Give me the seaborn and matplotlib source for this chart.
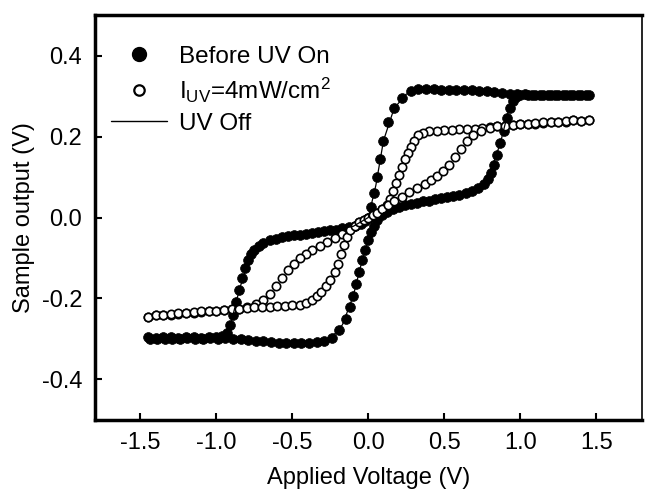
import pandas as pd
import matplotlib
matplotlib.use("Agg")
import matplotlib.pyplot as plt
from matplotlib.lines import Line2D
import seaborn as sns

# Before UV On (filled circles), sweep up then sweep down
before_up_x = [-1.45, -1.40, -1.35, -1.30, -1.25, -1.20, -1.15, -1.10, -1.05, -1.00,
               -0.96, -0.93, -0.91, -0.89, -0.87, -0.85, -0.83, -0.81, -0.79, -0.77,
               -0.75, -0.72, -0.69, -0.65, -0.61, -0.57, -0.53, -0.49, -0.45, -0.41,
               -0.37, -0.33, -0.29, -0.25, -0.21, -0.17, -0.13, -0.09, -0.05, -0.02,
               0.00, 0.02, 0.04, 0.06, 0.08, 0.10, 0.13, 0.17, 0.22, 0.28,
               0.33, 0.38, 0.43, 0.48, 0.53, 0.58, 0.63, 0.68, 0.73, 0.78,
               0.83, 0.88, 0.93, 0.98, 1.03, 1.08, 1.13, 1.18, 1.23, 1.28,
               1.33, 1.38, 1.43]
before_up_y = [-0.295, -0.297, -0.295, -0.296, -0.297, -0.295, -0.296, -0.297, -0.296, -0.295,
               -0.293, -0.285, -0.265, -0.24, -0.21, -0.18, -0.15, -0.125, -0.105, -0.09,
               -0.08, -0.07, -0.062, -0.056, -0.052, -0.049, -0.046, -0.044, -0.042, -0.040,
               -0.038, -0.036, -0.034, -0.032, -0.030, -0.027, -0.024, -0.020, -0.015, -0.008,
               0.0, 0.025, 0.06, 0.10, 0.145, 0.19, 0.235, 0.27, 0.295, 0.312,
               0.318, 0.318, 0.317, 0.316, 0.316, 0.315, 0.315, 0.314, 0.313, 0.312,
               0.31, 0.308, 0.306, 0.305, 0.305, 0.304, 0.304, 0.304, 0.303, 0.303,
               0.303, 0.302, 0.302]

before_down_x = [1.45, 1.40, 1.35, 1.30, 1.25, 1.20, 1.15, 1.10, 1.05, 1.00,
                 0.97, 0.95, 0.93, 0.91, 0.89, 0.87, 0.85, 0.83, 0.81, 0.79,
                 0.76, 0.72, 0.68, 0.64, 0.60, 0.56, 0.52, 0.48, 0.44, 0.40,
                 0.36, 0.32, 0.28, 0.24, 0.20, 0.16, 0.12, 0.09, 0.06, 0.04,
                 0.02, 0.00, -0.02, -0.04, -0.06, -0.08, -0.10, -0.12, -0.15, -0.19,
                 -0.24, -0.29, -0.34, -0.39, -0.44, -0.49, -0.54, -0.59, -0.64, -0.69,
                 -0.74, -0.79, -0.84, -0.89, -0.94, -0.99, -1.04, -1.09, -1.14, -1.19,
                 -1.24, -1.29, -1.34, -1.39, -1.44]
before_down_y = [0.304, 0.303, 0.304, 0.303, 0.304, 0.303, 0.303, 0.304, 0.303, 0.302,
                 0.298, 0.288, 0.27, 0.245, 0.215, 0.185, 0.155, 0.13, 0.11, 0.095,
                 0.082, 0.072, 0.065, 0.06, 0.056, 0.053, 0.05, 0.047, 0.045, 0.042,
                 0.040, 0.037, 0.034, 0.031, 0.027, 0.022, 0.014, 0.005, -0.005, -0.02,
                 -0.035, -0.055, -0.08, -0.105, -0.135, -0.165, -0.195, -0.22, -0.25, -0.278,
                 -0.297, -0.305, -0.308, -0.31, -0.31, -0.31, -0.31, -0.309, -0.308, -0.306,
                 -0.304, -0.302, -0.300, -0.300, -0.299, -0.300, -0.299, -0.300, -0.300, -0.299,
                 -0.300, -0.301, -0.300, -0.300, -0.301]

# I_UV = 4 mW/cm2 (open circles)
uv_down_x = [1.45, 1.40, 1.35, 1.30, 1.25, 1.20, 1.15, 1.10, 1.05, 1.00,
             0.95, 0.90, 0.85, 0.80, 0.75, 0.70, 0.65, 0.60, 0.55, 0.50,
             0.45, 0.40, 0.36, 0.33, 0.30, 0.28, 0.26, 0.24, 0.22, 0.20,
             0.18, 0.16, 0.14, 0.12, 0.09, 0.06, 0.03, 0.00, -0.03, -0.06,
             -0.09, -0.13, -0.17, -0.22, -0.27, -0.32, -0.37, -0.41, -0.45, -0.49,
             -0.53, -0.57, -0.61, -0.65, -0.69, -0.74, -0.80, -0.85, -0.90, -0.95,
             -1.00, -1.05, -1.10, -1.15, -1.20, -1.25, -1.30, -1.35, -1.40, -1.45]
uv_down_y = [0.24, 0.238, 0.24, 0.237, 0.235, 0.235, 0.233, 0.232, 0.23, 0.23,
             0.228, 0.226, 0.225, 0.224, 0.222, 0.22, 0.22, 0.218, 0.217, 0.216,
             0.215, 0.213, 0.21, 0.205, 0.19, 0.175, 0.16, 0.145, 0.125, 0.105,
             0.085, 0.065, 0.045, 0.03, 0.02, 0.012, 0.006, 0.0, -0.006, -0.012,
             -0.02, -0.03, -0.04, -0.05, -0.06, -0.07, -0.08, -0.09, -0.10, -0.115,
             -0.13, -0.15, -0.17, -0.19, -0.205, -0.215, -0.22, -0.225, -0.225, -0.228,
             -0.23, -0.232, -0.233, -0.235, -0.236, -0.238, -0.24, -0.24, -0.242, -0.245]

uv_up_x = [-1.45, -1.40, -1.35, -1.30, -1.25, -1.20, -1.15, -1.10, -1.05, -1.00,
           -0.95, -0.90, -0.85, -0.80, -0.75, -0.70, -0.65, -0.60, -0.55, -0.50,
           -0.45, -0.41, -0.37, -0.34, -0.31, -0.28, -0.25, -0.22, -0.20, -0.18,
           -0.16, -0.14, -0.12, -0.09, -0.06, -0.03, 0.00, 0.03, 0.06, 0.09,
           0.13, 0.17, 0.22, 0.27, 0.32, 0.37, 0.41, 0.45, 0.49, 0.53,
           0.57, 0.61, 0.65, 0.69, 0.74, 0.80, 0.85, 0.90, 0.95, 1.00,
           1.05, 1.10, 1.15, 1.20, 1.25, 1.30, 1.35, 1.40, 1.45]
uv_up_y = [-0.245, -0.24, -0.242, -0.238, -0.237, -0.235, -0.234, -0.232, -0.23, -0.23,
           -0.228, -0.227, -0.225, -0.224, -0.222, -0.221, -0.22, -0.219, -0.218, -0.217,
           -0.216, -0.212, -0.205, -0.195, -0.185, -0.17, -0.155, -0.135, -0.115, -0.09,
           -0.068, -0.048, -0.032, -0.02, -0.012, -0.006, 0.0, 0.006, 0.012, 0.02,
           0.03, 0.04, 0.05, 0.062, 0.072, 0.082, 0.092, 0.102, 0.115, 0.13,
           0.15, 0.17, 0.19, 0.205, 0.215, 0.222, 0.225, 0.227, 0.228, 0.23,
           0.232, 0.233, 0.235, 0.236, 0.237, 0.238, 0.24, 0.239, 0.242]

# UV Off (thin line, retraces the dark loop)
uv_off_x = [-1.45, -0.95, -0.90, -0.85, -0.80, -0.75, -0.70, -0.40, -0.10, 0.00,
            0.05, 0.10, 0.17, 0.25, 0.35, 0.90, 1.45, 0.97, 0.92, 0.87,
            0.82, 0.76, 0.70, 0.40, 0.10, 0.04, 0.00, -0.05, -0.10, -0.17,
            -0.25, -0.35, -0.90, -1.45]
uv_off_y = [-0.30, -0.295, -0.255, -0.18, -0.12, -0.085, -0.065, -0.04, -0.022, 0.0,
            0.08, 0.19, 0.27, 0.305, 0.318, 0.31, 0.303, 0.30, 0.26, 0.185,
            0.13, 0.09, 0.07, 0.042, 0.012, -0.02, -0.055, -0.12, -0.195, -0.265,
            -0.3, -0.31, -0.30, -0.30]

labels = ["Before UV On", r"I$_{\mathrm{UV}}$=4mW/cm$^{2}$", "UV Off"]

sns.set_theme(style="ticks")
plt.rcParams["font.family"] = ["Liberation Sans", "DejaVu Sans"]
plt.rcParams["mathtext.fontset"] = "custom"
plt.rcParams["mathtext.rm"] = "Liberation Sans"
plt.rcParams["mathtext.it"] = "Liberation Sans:italic"
plt.rcParams["text.color"] = "black"
plt.rcParams["axes.labelcolor"] = "black"

before = pd.DataFrame({"x": before_up_x + before_down_x, "y": before_up_y + before_down_y})
uv = pd.DataFrame({"x": uv_down_x + uv_up_x, "y": uv_down_y + uv_up_y})
off = pd.DataFrame({"x": uv_off_x, "y": uv_off_y})

fig = plt.figure(figsize=(6.45, 4.91), dpi=100)
ax = fig.add_axes([0.147, 0.145, 0.848, 0.824])

sns.lineplot(data=off, x="x", y="y", sort=False, estimator=None, color="black",
             linewidth=0.9, ax=ax)
sns.scatterplot(data=before, x="x", y="y", color="black", edgecolor="black",
                s=50, linewidth=0.5, ax=ax)
sns.scatterplot(data=uv, x="x", y="y", facecolor="white", edgecolor="black",
                s=36, linewidth=1.2, ax=ax)

ax.set_xlim(-1.8, 1.8)
ax.set_ylim(-0.5, 0.5)
ax.set_xticks([-1.5, -1.0, -0.5, 0.0, 0.5, 1.0, 1.5])
ax.set_yticks([-0.4, -0.2, 0.0, 0.2, 0.4])
ax.set_xticklabels(["-1.5", "-1.0", "-0.5", "0.0", "0.5", "1.0", "1.5"])
ax.set_yticklabels(["-0.4", "-0.2", "0.0", "0.2", "0.4"])
ax.tick_params(direction="in", length=5, width=1.5, labelsize=17, pad=9,
               colors="black")
for sp in ax.spines.values():
    sp.set_linewidth(2.5)
    sp.set_color("black")
ax.spines["right"].set_linewidth(1.2)
ax.set_xlabel("Applied Voltage (V)", fontsize=17, labelpad=9, color="black")
ax.set_ylabel("Sample output (V)", fontsize=17, labelpad=5, color="black")

handles = [
    Line2D([], [], marker="o", linestyle="none", color="black", markersize=10),
    Line2D([], [], marker="o", linestyle="none", markerfacecolor="white",
           markeredgecolor="black", markeredgewidth=1.6, markersize=7.5),
    Line2D([], [], color="black", linewidth=1.0),
]
ax.legend(handles, labels, loc="upper left", bbox_to_anchor=(0.03, 0.925),
          frameon=False, fontsize=17.5, handlelength=2.3, handletextpad=0.5,
          labelspacing=0.33, borderpad=0, borderaxespad=0, labelcolor="black")

fig.savefig("out.png", dpi=100)
